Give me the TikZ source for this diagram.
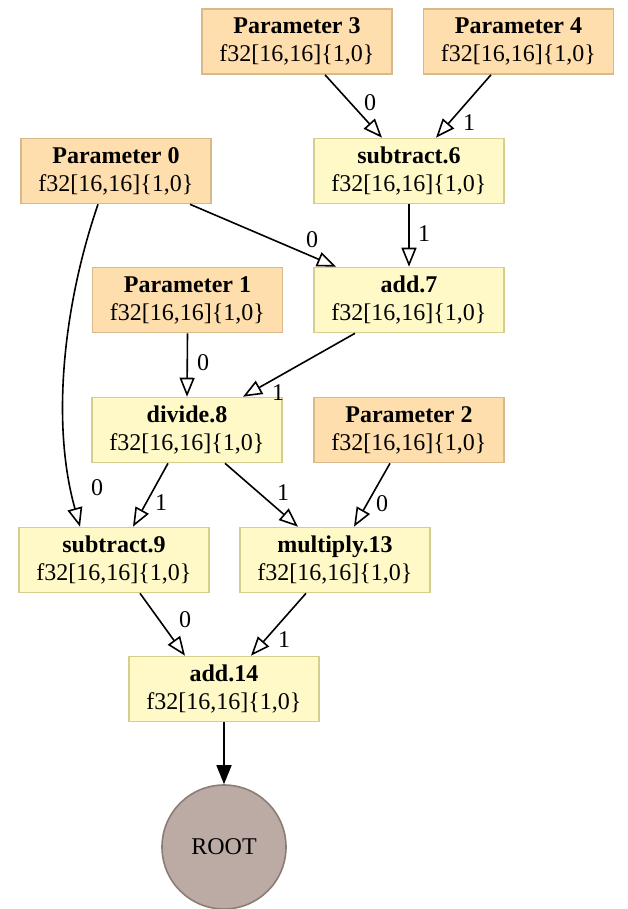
\documentclass[tikz,border=0pt]{standalone}
\usepackage{fontspec}
\setmainfont{Liberation Serif}
\usetikzlibrary{arrows.meta}
\definecolor{paramfill}{HTML}{FFDEAD}
\definecolor{paramline}{HTML}{D9B98A}
\definecolor{opfill}{HTML}{FFF9C8}
\definecolor{opline}{HTML}{D6CE8E}
\definecolor{rootfill}{HTML}{BCAAA4}
\definecolor{rootline}{HTML}{8D7B75}
\tikzset{
  hlo/.style={rectangle, minimum width=190pt, minimum height=65pt, inner sep=0pt,
    line width=1.6pt, align=center, font=\fontsize{24}{28}\selectfont},
  param/.style={hlo, fill=paramfill, draw=paramline},
  op/.style={hlo, fill=opfill, draw=opline},
  rootnode/.style={circle, minimum size=124pt, inner sep=0pt, fill=rootfill,
    draw=rootline, line width=1.6pt, font=\fontsize{24}{28}\selectfont},
  operand/.style={draw=black, line width=1.6pt,
    -{Triangle[open, length=19pt, width=15pt, fill=white]}},
  result/.style={draw=black, line width=1.6pt,
    -{Triangle[length=19pt, width=15pt]}},
  elabel/.style={inner sep=0pt, font=\fontsize{24}{28}\selectfont}
}
\newcommand{\hlonode}[1]{\textbf{#1}\\f32[16,16]\{1,0\}}
\begin{document}
\begin{tikzpicture}[x=1pt, y=-1pt]
  \useasboundingbox (0,0) rectangle (628,909);

  % instructions
  \node[param] (p3) at (297,41.5) {\hlonode{Parameter 3}};
  \node[param] (p4) at (518.5,41.5) {\hlonode{Parameter 4}};
  \node[param] (p0) at (116,171) {\hlonode{Parameter 0}};
  \node[op] (sub6) at (409,171) {\hlonode{subtract.6}};
  \node[param] (p1) at (187.5,300) {\hlonode{Parameter 1}};
  \node[op] (add7) at (409,300) {\hlonode{add.7}};
  \node[op] (div8) at (187,430) {\hlonode{divide.8}};
  \node[param] (p2) at (409,430) {\hlonode{Parameter 2}};
  \node[op] (sub9) at (114,560) {\hlonode{subtract.9}};
  \node[op] (mul13) at (335,560) {\hlonode{multiply.13}};
  \node[op] (add14) at (224,689) {\hlonode{add.14}};
  \node[rootnode] (root) at (224,847) {ROOT};

  % operand edges
  \draw[operand] ([xshift=28pt]p3.south) -- ([xshift=-27pt]sub6.north);
  \draw[operand] ([xshift=-27.5pt]p4.south) -- ([xshift=27pt]sub6.north);
  \draw[operand] (sub6.south) -- (add7.north);
  \draw[operand] ([xshift=74pt]p0.south) -- ([xshift=-73pt]add7.north);
  \draw[operand] ([xshift=-18pt]p0.south) .. controls +(-33,96) and +(-30,-107) .. ([xshift=-34pt]sub9.north);
  \draw[operand] (p1.south) -- (div8.north);
  \draw[operand] ([xshift=-54pt]add7.south) -- ([xshift=56pt]div8.north);
  \draw[operand] ([xshift=-19pt]div8.south) -- ([xshift=19pt]sub9.north);
  \draw[operand] ([xshift=38pt]div8.south) -- ([xshift=-37pt]mul13.north);
  \draw[operand] ([xshift=-19pt]p2.south) -- ([xshift=19pt]mul13.north);
  \draw[operand] ([xshift=26pt]sub9.south) -- ([xshift=-39pt]add14.north);
  \draw[operand] ([xshift=-29pt]mul13.south) -- ([xshift=27pt]add14.north);
  \draw[result] (add14.south) -- (root.north);

  % operand indices
  \node[elabel] (l1) at (370,103) {0};
  \node[elabel] (l2) at (469,123) {1};
  \node[elabel] (l3) at (424,234) {1};
  \node[elabel] (l4) at (312,240) {0};
  \node[elabel] (l5) at (97,488) {0};
  \node[elabel] (l6) at (203,363) {0};
  \node[elabel] (l7) at (278,393) {1};
  \node[elabel] (l8) at (161,503) {1};
  \node[elabel] (l9) at (283,493) {1};
  \node[elabel] (l10) at (382,504) {0};
  \node[elabel] (l11) at (185,620) {0};
  \node[elabel] (l12) at (284,640) {1};
\end{tikzpicture}
\end{document}
